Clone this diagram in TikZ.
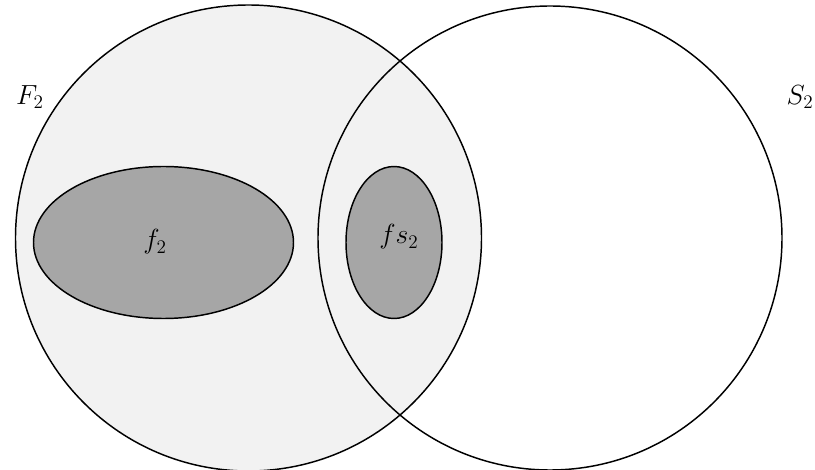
\documentclass[tikz,border=0pt]{standalone}
\usepackage{amsmath}
\begin{document}
\begin{tikzpicture}[x=0.75pt, y=-0.75pt, every node/.style={font=\fontsize{20}{24}\selectfont}]
  \useasboundingbox (0,0) rectangle (815,470);
  \definecolor{lightgray}{HTML}{F2F2F2}
  \definecolor{midgray}{HTML}{A6A6A6}

  \fill[white] (550,238) circle (232);
  \fill[lightgray] (248.5,238) circle (233);
  \draw[line width=1.1pt] (248.5,238) circle (233);
  \draw[line width=1.1pt] (550,238) circle (232);

  \draw[line width=1.1pt, fill=midgray] (163.5,242.5) ellipse (130 and 76);
  \draw[line width=1.1pt, fill=midgray] (394,242.5) ellipse (48 and 76);

  \node (f) at (155,242) {$f_2$};
  \node (fs) at (399,237) {$fs_2$};
  \node (F) at (30,97) {$F_2$};
  \node (S) at (800,97) {$S_2$};
\end{tikzpicture}
\end{document}
